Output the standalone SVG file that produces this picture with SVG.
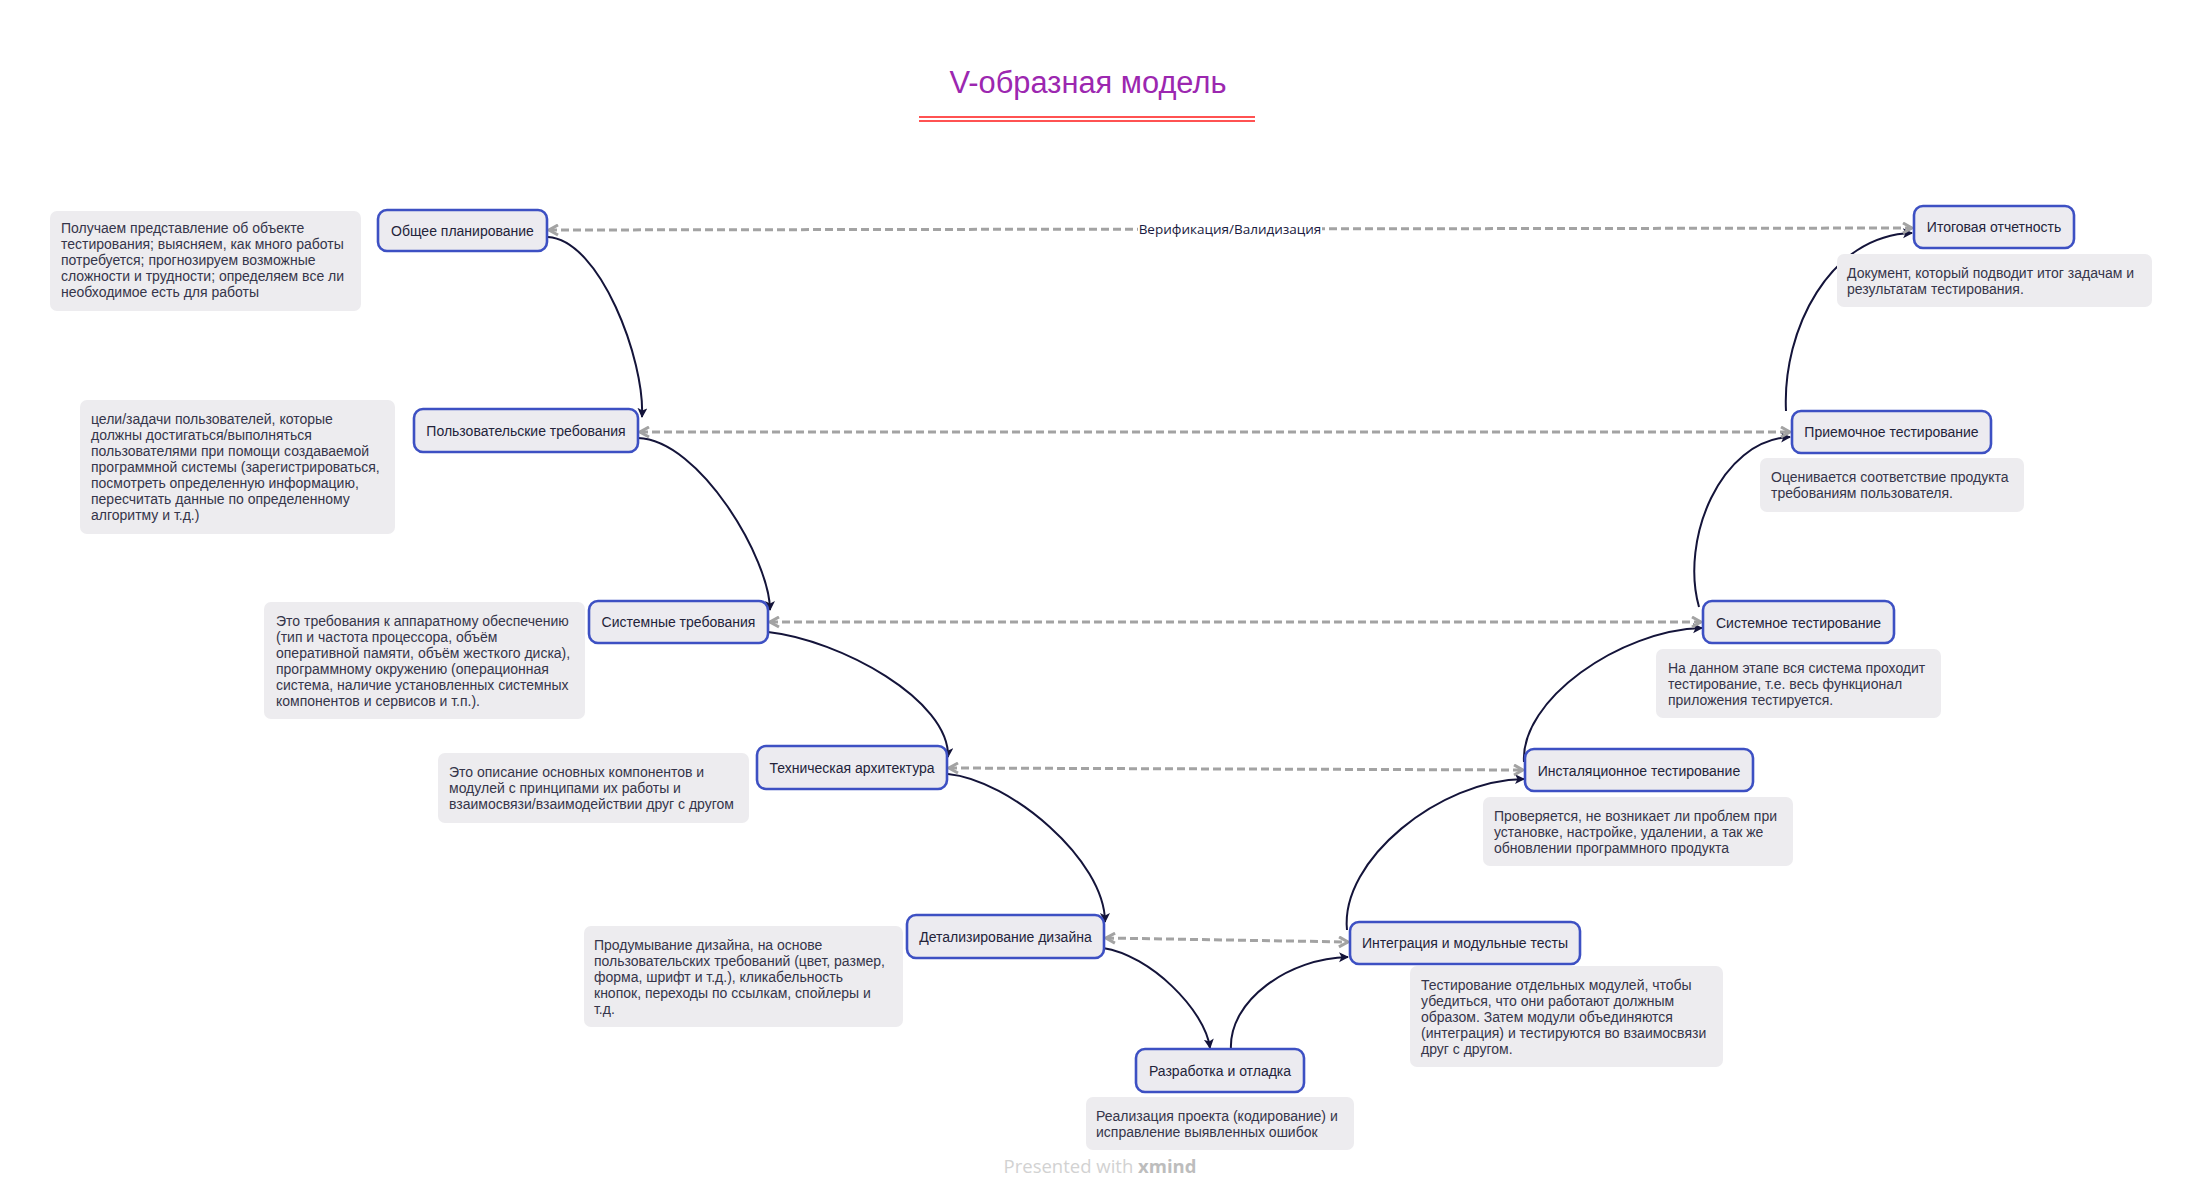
<svg xmlns="http://www.w3.org/2000/svg" width="2203" height="1201" viewBox="0 0 2203 1201">
<style>
.node rect{fill:#ECEBF0;stroke:#3D50C3;stroke-width:2.6}
.node text{font-family:"Liberation Sans",Arial,sans-serif;font-size:14px;fill:#23233a;text-anchor:middle}
.note rect{fill:#EDECEF}
.note text{font-family:"Liberation Sans",Arial,sans-serif;font-size:14px;fill:#35354a}
.flow{fill:none;stroke:#14143a;stroke-width:2;marker-end:url(#ah)}
.rel{fill:none;stroke:#A3A3A3;stroke-width:3;stroke-dasharray:8 4;marker-start:url(#gs);marker-end:url(#ge)}
</style>
<defs>
<marker id="ah" markerUnits="userSpaceOnUse" markerWidth="12" markerHeight="12" refX="9" refY="5" orient="auto"><path d="M0,0 L10,5 L0,10 L2.5,5 z" fill="#14143a"/></marker>
<marker id="ge" markerUnits="userSpaceOnUse" markerWidth="14" markerHeight="14" refX="11" refY="6" orient="auto"><path d="M2,1 L11,6 L2,11" fill="none" stroke="#A3A3A3" stroke-width="3" stroke-linejoin="miter"/></marker>
<marker id="gs" markerUnits="userSpaceOnUse" markerWidth="14" markerHeight="14" refX="1" refY="6" orient="auto"><path d="M10,1 L1,6 L10,11" fill="none" stroke="#A3A3A3" stroke-width="3" stroke-linejoin="miter"/></marker>
</defs>
<rect width="2203" height="1201" fill="#ffffff"/>

<g id="title">
<text x="1088" y="93" font-family="'Liberation Sans',Arial,sans-serif" font-size="30.8" fill="#9C27B0" text-anchor="middle">V-образная модель</text>
<line x1="919" y1="117" x2="1255" y2="117" stroke="#FF5252" stroke-width="2"/>
<line x1="919" y1="121" x2="1255" y2="121" stroke="#FF5252" stroke-width="2"/>
</g>

<g id="connectors">
<path class="flow" d="M548,237 C600,240 645,360 642,417"/>
<path class="flow" d="M638,438 C700,440 770,560 770,610"/>
<path class="flow" d="M768,632 C840,640 950,700 948,757"/>
<path class="flow" d="M948,774 C1010,780 1105,860 1105,922"/>
<path class="flow" d="M1103,948 C1150,955 1205,1010 1210,1048"/>
<path class="flow" d="M1231,1050 C1228,1000 1290,958 1348,957"/>
<path class="flow" d="M1347,930 C1340,860 1440,780 1524,779"/>
<path class="flow" d="M1524,762 C1520,700 1620,630 1702,628"/>
<path class="flow" d="M1699,607 C1680,540 1720,440 1790,437"/>
<path class="flow" d="M1786,411 C1782,330 1830,235 1912,233"/>
<path class="rel" d="M549,230 L1912,228"/>
<path class="rel" d="M640,432 L1790,432"/>
<path class="rel" d="M770,622 L1701,622"/>
<path class="rel" d="M949,768 L1523,770"/>
<path class="rel" d="M1106,938 L1348,942"/>
<rect x="1138" y="218" width="184" height="22" fill="#ffffff"/>
<text x="1230" y="234" font-family="'Open Sans','Liberation Sans',sans-serif" font-size="13.5" fill="#1a1a40" text-anchor="middle">Верификация/Валидизация</text>
</g>

<g id="n1" class="node"><rect x="378" y="210" width="169" height="41" rx="9"/><text x="462.5" y="236">Общее планирование</text></g>
<g id="n2" class="node"><rect x="414" y="409" width="224" height="43" rx="9"/><text x="526" y="436">Пользовательские требования</text></g>
<g id="n3" class="node"><rect x="589" y="601" width="179" height="42" rx="9"/><text x="678.5" y="627">Системные требования</text></g>
<g id="n4" class="node"><rect x="757" y="746" width="190" height="43" rx="9"/><text x="852" y="773">Техническая архитектура</text></g>
<g id="n5" class="node"><rect x="907" y="915" width="197" height="43" rx="9"/><text x="1005.5" y="942">Детализирование дизайна</text></g>
<g id="n6" class="node"><rect x="1136" y="1049" width="168" height="43" rx="9"/><text x="1220" y="1076">Разработка и отладка</text></g>
<g id="n7" class="node"><rect x="1350" y="922" width="230" height="42" rx="9"/><text x="1465" y="948">Интеграция и модульные тесты</text></g>
<g id="n8" class="node"><rect x="1525" y="749" width="228" height="42" rx="9"/><text x="1639" y="776">Инсталяционное тестирование</text></g>
<g id="n9" class="node"><rect x="1703" y="601" width="191" height="42" rx="9"/><text x="1798.5" y="628">Системное тестирование</text></g>
<g id="n10" class="node"><rect x="1792" y="411" width="199" height="42" rx="9"/><text x="1891.5" y="437">Приемочное тестирование</text></g>
<g id="n11" class="node"><rect x="1914" y="206" width="160" height="42" rx="9"/><text x="1994" y="232">Итоговая отчетность</text></g>

<g id="note1" class="note"><rect x="50" y="211" width="311" height="100" rx="7"/>
<text x="61" y="233"><tspan x="61">Получаем представление об объекте</tspan><tspan x="61" dy="16">тестирования; выясняем, как много работы</tspan><tspan x="61" dy="16">потребуется; прогнозируем возможные</tspan><tspan x="61" dy="16">сложности и трудности; определяем все ли</tspan><tspan x="61" dy="16">необходимое есть для работы</tspan></text></g>
<g id="note2" class="note"><rect x="80" y="400" width="315" height="134" rx="7"/>
<text x="91" y="424"><tspan x="91">цели/задачи пользователей, которые</tspan><tspan x="91" dy="16">должны достигаться/выполняться</tspan><tspan x="91" dy="16">пользователями при помощи создаваемой</tspan><tspan x="91" dy="16">программной системы (зарегистрироваться,</tspan><tspan x="91" dy="16">посмотреть определенную информацию,</tspan><tspan x="91" dy="16">пересчитать данные по определенному</tspan><tspan x="91" dy="16">алгоритму и т.д.)</tspan></text></g>
<g id="note3" class="note"><rect x="264" y="602" width="321" height="117" rx="7"/>
<text x="276" y="626"><tspan x="276">Это требования к аппаратному обеспечению</tspan><tspan x="276" dy="16">(тип и частота процессора, объём</tspan><tspan x="276" dy="16">оперативной памяти, объём жесткого диска),</tspan><tspan x="276" dy="16">программному окружению (операционная</tspan><tspan x="276" dy="16">система, наличие установленных системных</tspan><tspan x="276" dy="16">компонентов и сервисов и т.п.).</tspan></text></g>
<g id="note4" class="note"><rect x="438" y="753" width="311" height="70" rx="7"/>
<text x="449" y="777"><tspan x="449">Это описание основных компонентов и</tspan><tspan x="449" dy="16">модулей с принципами их работы и</tspan><tspan x="449" dy="16">взаимосвязи/взаимодействии друг с другом</tspan></text></g>
<g id="note5" class="note"><rect x="584" y="926" width="319" height="101" rx="7"/>
<text x="594" y="950"><tspan x="594">Продумывание дизайна, на основе</tspan><tspan x="594" dy="16">пользовательских требований (цвет, размер,</tspan><tspan x="594" dy="16">форма, шрифт и т.д.), кликабельность</tspan><tspan x="594" dy="16">кнопок, переходы по ссылкам, спойлеры и</tspan><tspan x="594" dy="16">т.д.</tspan></text></g>
<g id="note6" class="note"><rect x="1086" y="1097" width="268" height="53" rx="7"/>
<text x="1096" y="1121"><tspan x="1096">Реализация проекта (кодирование) и</tspan><tspan x="1096" dy="16">исправление выявленных ошибок</tspan></text></g>
<g id="note7" class="note"><rect x="1410" y="966" width="313" height="101" rx="7"/>
<text x="1421" y="990"><tspan x="1421">Тестирование отдельных модулей, чтобы</tspan><tspan x="1421" dy="16">убедиться, что они работают должным</tspan><tspan x="1421" dy="16">образом. Затем модули объединяются</tspan><tspan x="1421" dy="16">(интеграция) и тестируются во взаимосвязи</tspan><tspan x="1421" dy="16">друг с другом.</tspan></text></g>
<g id="note8" class="note"><rect x="1483" y="797" width="310" height="69" rx="7"/>
<text x="1494" y="821"><tspan x="1494">Проверяется, не возникает ли проблем при</tspan><tspan x="1494" dy="16">установке, настройке, удалении, а так же</tspan><tspan x="1494" dy="16">обновлении программного продукта</tspan></text></g>
<g id="note9" class="note"><rect x="1656" y="649" width="285" height="69" rx="7"/>
<text x="1668" y="673"><tspan x="1668">На данном этапе вся система проходит</tspan><tspan x="1668" dy="16">тестирование, т.е. весь функционал</tspan><tspan x="1668" dy="16">приложения тестируется.</tspan></text></g>
<g id="note10" class="note"><rect x="1760" y="458" width="264" height="54" rx="7"/>
<text x="1771" y="482"><tspan x="1771">Оценивается соответствие продукта</tspan><tspan x="1771" dy="16">требованиям пользователя.</tspan></text></g>
<g id="note11" class="note"><rect x="1837" y="254" width="315" height="53" rx="7"/>
<text x="1847" y="278"><tspan x="1847">Документ, который подводит итог задачам и</tspan><tspan x="1847" dy="16">результатам тестирования.</tspan></text></g>

<g id="footer">
<text x="1100" y="1173" font-family="'Open Sans','Liberation Sans',sans-serif" font-size="18.5" fill="#d2d2d2" text-anchor="middle">Presented with <tspan font-weight="bold" fill="#bdbdbd">xmind</tspan></text>
</g>
</svg>
